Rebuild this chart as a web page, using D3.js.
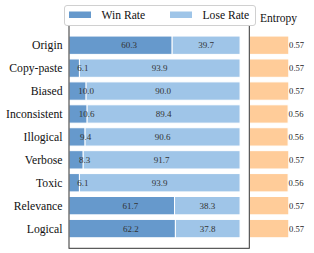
<!DOCTYPE html>
<html>
<head>
<meta charset="utf-8">
<style>
  body { margin: 0; background: #fff; }
  text { font-family: "Liberation Serif", "DejaVu Serif", serif; fill: #222; }
</style>
</head>
<body>
<script src="https://d3js.org/d3.v7.min.js"></script>
<script>
var categories = ["Origin", "Copy-paste", "Biased", "Inconsistent", "Illogical", "Verbose", "Toxic", "Relevance", "Logical"];
var winRate = [60.3, 6.1, 10.0, 10.6, 9.4, 8.3, 6.1, 61.7, 62.2];
var loseRate = [39.7, 93.9, 90.0, 89.4, 90.6, 91.7, 93.9, 38.3, 37.8];
var entropy = [0.57, 0.57, 0.57, 0.56, 0.56, 0.57, 0.56, 0.57, 0.57];
var seriesNames = ["Win Rate", "Lose Rate"];

var winColor = "#6699cc", loseColor = "#9fc5e8", entColor = "#ffcc99";

var width = 314, height = 253;
var svg = d3.select("body").append("svg")
    .attr("width", width)
    .attr("height", height);

// main panel scales
var x = d3.scaleLinear().domain([0, 105.4]).range([69, 249.3]);
var y = d3.scaleLinear().domain([-0.86, 8.86]).range([25.5, 248.3]);
var step = y(1) - y(0);
var barH = step * 0.8;

// entropy panel scale
var xe = d3.scaleLinear().domain([0, 0.57]).range([249.5, 288.8]);

var rows = categories.map(function(c, i) {
    return { name: c, win: winRate[i], lose: loseRate[i], ent: entropy[i], i: i };
});

// entropy bars
svg.append("g").selectAll("rect")
    .data(rows)
    .enter().append("rect")
    .attr("x", xe(0))
    .attr("y", function(d) { return y(d.i) - barH / 2; })
    .attr("width", function(d) { return xe(d.ent) - xe(0); })
    .attr("height", barH)
    .attr("fill", entColor)
    .attr("stroke", "#fff")
    .attr("stroke-width", 1);

svg.append("g").selectAll("text")
    .data(rows)
    .enter().append("text")
    .attr("x", function(d) { return xe(d.ent) + 0.3; })
    .attr("y", function(d) { return y(d.i); })
    .attr("dy", "0.35em")
    .style("font-size", "8.6px")
    .text(function(d) { return d.ent.toFixed(2); });

// win / lose bars
var g = svg.append("g");
g.selectAll("rect.win")
    .data(rows)
    .enter().append("rect")
    .attr("class", "win")
    .attr("x", x(0))
    .attr("y", function(d) { return y(d.i) - barH / 2; })
    .attr("width", function(d) { return x(d.win) - x(0); })
    .attr("height", barH)
    .attr("fill", winColor)
    .attr("stroke", "#fff")
    .attr("stroke-width", 1);

g.selectAll("rect.lose")
    .data(rows)
    .enter().append("rect")
    .attr("class", "lose")
    .attr("x", function(d) { return x(d.win); })
    .attr("y", function(d) { return y(d.i) - barH / 2; })
    .attr("width", function(d) { return x(d.win + d.lose) - x(d.win); })
    .attr("height", barH)
    .attr("fill", loseColor)
    .attr("stroke", "#fff")
    .attr("stroke-width", 1);

// value labels
g.selectAll("text.wl")
    .data(rows)
    .enter().append("text")
    .attr("class", "wl")
    .attr("x", function(d) { return x(d.win / 2 + 5); })
    .attr("y", function(d) { return y(d.i); })
    .attr("dy", "0.35em")
    .attr("text-anchor", "middle")
    .style("font-size", "9px")
    .style("fill", "#333")
    .text(function(d) { return d.win.toFixed(1); });

g.selectAll("text.ll")
    .data(rows)
    .enter().append("text")
    .attr("class", "ll")
    .attr("x", function(d) { return x(d.win + d.lose / 2); })
    .attr("y", function(d) { return y(d.i); })
    .attr("dy", "0.35em")
    .attr("text-anchor", "middle")
    .style("font-size", "9px")
    .style("fill", "#333")
    .text(function(d) { return d.lose.toFixed(1); });

// frame
svg.append("rect")
    .attr("x", x.range()[0])
    .attr("y", y.range()[0])
    .attr("width", x.range()[1] - x.range()[0])
    .attr("height", y.range()[1] - y.range()[0])
    .attr("fill", "none")
    .attr("stroke", "#333")
    .attr("stroke-width", 1);

// y category labels
svg.append("g").selectAll("text")
    .data(rows)
    .enter().append("text")
    .attr("x", 62.5)
    .attr("y", function(d) { return y(d.i); })
    .attr("dy", "0.35em")
    .attr("text-anchor", "end")
    .style("font-size", "11.7px")
    .style("fill", "#111")
    .text(function(d) { return d.name; });

// entropy title
svg.append("text")
    .attr("x", 260)
    .attr("y", 22)
    .style("font-size", "11.5px")
    .style("fill", "#111")
    .text("Entropy");

// legend
var legend = svg.append("g");
legend.append("rect")
    .attr("x", 64.5).attr("y", 5.5)
    .attr("width", 191).attr("height", 20)
    .attr("rx", 2.5)
    .attr("fill", "#fff")
    .attr("fill-opacity", 0.9)
    .attr("stroke", "#d0d0d0")
    .attr("stroke-width", 1);

var legX = [69, 170];
legend.selectAll("rect.sw")
    .data(seriesNames)
    .enter().append("rect")
    .attr("class", "sw")
    .attr("x", function(d, i) { return legX[i]; })
    .attr("y", 11.5)
    .attr("width", 22)
    .attr("height", 6.5)
    .attr("fill", function(d, i) { return i === 0 ? winColor : loseColor; });

legend.selectAll("text")
    .data(seriesNames)
    .enter().append("text")
    .attr("x", function(d, i) { return legX[i] + 32.5; })
    .attr("y", 15)
    .attr("dy", "0.35em")
    .style("font-size", "11.6px")
    .style("fill", "#111")
    .text(function(d) { return d; });
</script>
</body>
</html>
